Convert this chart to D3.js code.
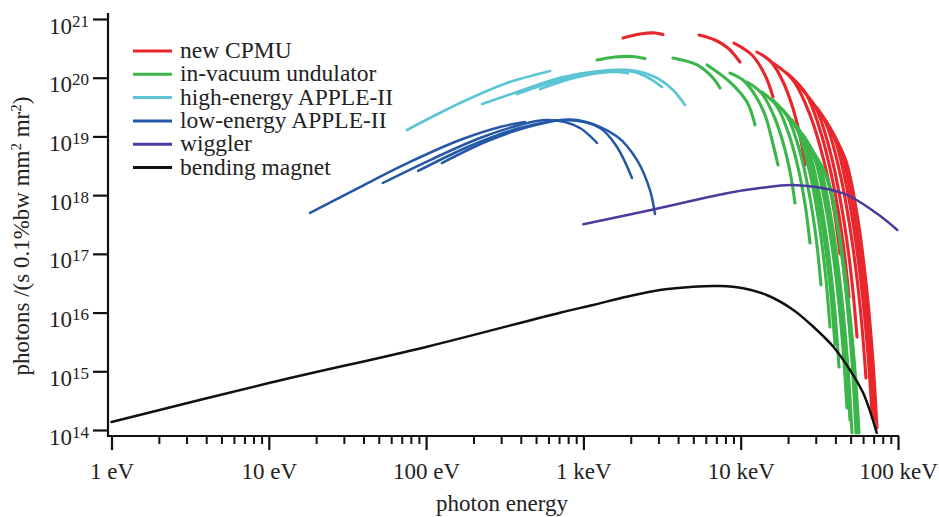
<!DOCTYPE html>
<html>
<head>
<meta charset="utf-8">
<script src="https://cdn.jsdelivr.net/npm/d3@7"></script>
<style>
  html, body { margin: 0; padding: 0; background: #fff; }
  svg { display: block; }
  svg text { font-family: "Liberation Serif", "Times New Roman", Times, Tinos, "DejaVu Serif", serif; fill: #222; }
</style>
</head>
<body>
<svg id="chart" width="939" height="517"></svg>
<script>
// ---------------- data (energy in eV, brightness in photons/(s 0.1%bw mm2 mr2)) ----------------
const xMajorTicks = [1, 10, 100, 1000, 10000, 100000];
const xTickLabels = ["1 eV", "10 eV", "100 eV", "1 keV", "10 keV", "100 keV"];
const yTicks = [1e14, 1e15, 1e16, 1e17, 1e18, 1e19, 1e20, 1e21];
const yTickExponents = ["14", "15", "16", "17", "18", "19", "20", "21"];

const legendLabels = ["new CPMU", "in-vacuum undulator", "high-energy APPLE-II",
                      "low-energy APPLE-II", "wiggler", "bending magnet"];

const cpmuCurves = [
  [[1786,4.74e20],[2291,5.55e20],[2852,5.78e20],[3206,5.45e20]],
  [[5430,5.34e20],[6865,4.39e20],[8300,3.21e20],[9900,1.85e20]],
  [[9070,3.90e20],[11800,2.44e20],[14270,1.11e20],[16050,4.69e19]],
  [[12690,2.74e20],[15670,1.84e20],[18680,8.29e19],[21500,2.99e19],[23890,9.85e18],[25640,3.26e18]],
  [[16050,1.78e20],[21530,9.07e19],[27540,2.35e19],[33500,4.21e18],[38800,6.45e17],[42800,9.94e16]],
  [[19700,1.20e20],[25860,5.45e19],[32440,1.12e19],[38900,1.49e18],[44590,1.66e17],[48820,1.84e16]],
  [[23140,7.51e19],[29980,3.08e19],[37230,5.22e18],[44250,5.37e17],[50340,4.54e16],[54890,3.83e15]],
  [[26790,4.69e19],[34560,1.74e19],[42730,2.39e18],[50630,1.90e17],[57510,1.21e16],[62590,7.68e14]],
  [[30560,3.05e19],[38900,1.04e19],[47610,1.20e18],[55920,7.70e16],[63070,3.86e15],[68340,1.95e14]],
  [[34350,1.91e19],[42800,6.43e18],[51360,7.29e17],[59480,4.54e16],[66370,2.21e15],[70370,1.48e14]],
  [[38050,1.14e19],[46380,4.03e18],[54730,5.02e17],[62420,3.51e16],[68850,1.94e15],[73530,1.08e14]]
];

const ivuCurves = [
  [[1220,2.00e20],[1588,2.25e20],[2037,2.30e20],[2464,2.13e20]],
  [[3710,2.17e20],[5280,1.65e20],[6670,9.9e19],[7390,6.7e19]],
  [[6110,1.65e20],[8550,8.45e19],[10970,3.86e19],[12330,1.57e19]],
  [[8550,1.20e20],[10340,9.14e19],[12330,5.08e19],[14280,2.32e19],[15810,8.69e18],[17260,3.26e18]],
  [[10970,8.45e19],[13540,5.51e19],[16140,2.34e19],[18580,7.88e18],[20640,2.40e18],[22140,7.34e17]],
  [[13660,5.71e19],[16870,3.35e19],[20100,1.15e19],[23140,2.96e18],[25720,6.71e17],[27580,1.53e17]],
  [[16050,4.17e19],[19820,2.17e19],[23620,5.87e18],[27180,1.11e18],[30200,1.80e17],[32390,2.95e16]],
  [[18580,2.82e19],[22830,1.31e19],[27140,2.83e18],[31140,4.00e17],[34500,4.75e16],[36960,5.67e15]],
  [[19700,2.32e19],[24310,1.03e19],[28990,2.03e18],[33370,2.55e17],[37070,2.67e16],[39780,2.80e15]],
  [[21190,1.91e19],[26050,7.97e18],[30960,1.39e18],[35530,1.50e17],[39380,1.33e16],[42170,1.18e15]],
  [[23480,1.29e19],[28990,4.83e18],[34560,6.77e17],[39780,5.52e16],[44190,3.61e15],[47400,2.37e14]],
  [[24890,1.06e19],[30600,3.86e18],[36370,5.16e17],[41740,3.95e16],[46240,2.41e15],[49530,1.48e14]],
  [[26010,8.69e18],[31840,3.09e18],[37670,3.91e17],[43100,2.78e16],[47680,1.57e15],[51010,8.9e13]],
  [[28400,5.87e18],[34910,2.16e18],[41490,2.93e17],[47610,2.28e16],[52770,1.42e15],[56520,8.9e13]],
  [[29670,4.83e18],[35690,1.81e18],[41620,2.54e17],[47060,2.07e16],[51600,1.36e15],[54890,8.9e13]],
  [[31000,3.97e18],[36640,1.51e18],[42110,2.20e17],[47060,1.88e16],[51160,1.29e15],[54080,8.9e13]]
];

const heAppleCurves = [
  [[75.6,1.29e19],[122,2.51e19],[199,4.69e19],[327,8.13e19],[614,1.30e20]],
  [[227,3.57e19],[395,5.94e19],[710,1.0e20],[1275,1.30e20],[1838,1.35e20],[2464,1.07e20],[3162,6.95e19]],
  [[378,5.28e19],[710,9.14e19],[1275,1.25e20],[1978,1.35e20],[2850,1.03e20],[3659,6.42e19],[4425,3.43e19]],
  [[530,6.42e19],[885,1.0e20],[1476,1.25e20],[1921,1.20e20]]
];

const leAppleCurves = [
  [[18.3,4.97e17],[38,1.37e18],[79,3.67e18],[164,8.69e18],[295,1.45e19],[425,1.76e19]],
  [[53,1.61e18],[106,3.96e18],[220,9.4e18],[395,1.57e19],[570,1.9e19],[764,1.76e19],[951,1.39e19],[1100,1.02e19],[1220,7.73e18]],
  [[89,2.58e18],[190,6.87e18],[395,1.39e19],[787,1.9e19],[1275,1.39e19],[1635,6.6e18],[2037,1.96e18]],
  [[126,3.52e18],[255,8.69e18],[530,1.63e19],[911,1.9e19],[1635,1.0e19],[2193,3.96e18],[2650,1.22e18],[2850,4.77e17]]
];

const wigglerCurve = [[1000,3.2e17],[2780,5.7e17],[8150,1.08e18],[13270,1.32e18],[21600,1.49e18],
                      [44900,1.07e18],[73000,4.9e17],[99000,2.55e17]];

const bendingCurve = [[1,1.37e14],[10,6.3e14],[100,2.6e15],[710,9.94e15],[1156,1.35e16],[1885,1.86e16],
                      [3069,2.42e16],[4995,2.76e16],[7386,2.83e16],[10390,2.59e16],[14630,1.99e16],
                      [21600,1.11e16],[28940,5.74e15],[38800,2.62e15],[49530,1.05e15],[60180,4.21e14],
                      [73200,9.0e13]];

const colors = ["#e8262b", "#3cb54b", "#5dc4d5", "#2557a7", "#4a3b9c", "#111111"];

// ---------------- drawing ----------------
const svg = d3.select("#chart");
const x = d3.scaleLog().domain([1, 1e5]).range([111.5, 898]);
const y = d3.scaleLog().domain([1e14, 1e21]).range([430, 19]);
const axisX0 = 108, axisY0 = 436;
const serif = '"Liberation Serif", "Times New Roman", Times, Tinos, "DejaVu Serif", serif';

const line = d3.line().x(d => x(d[0])).y(d => y(d[1])).curve(d3.curveCatmullRom.alpha(0.5));

function drawSeries(curves, color, width) {
  svg.append("g").selectAll("path").data(curves).join("path")
    .attr("d", line).attr("fill", "none").attr("stroke", color)
    .attr("stroke-width", width).attr("stroke-linecap", "round").attr("stroke-linejoin", "round");
}
drawSeries(cpmuCurves, colors[0], 3.1);
drawSeries(ivuCurves, colors[1], 3.1);
drawSeries(heAppleCurves, colors[2], 2.7);
drawSeries(leAppleCurves, colors[3], 2.5);
drawSeries([wigglerCurve], colors[4], 2.5);
drawSeries([bendingCurve], colors[5], 2.5);

// axes lines
svg.append("line").attr("x1", axisX0).attr("x2", axisX0).attr("y1", 13).attr("y2", axisY0 + 1)
  .attr("stroke", "#111").attr("stroke-width", 2.2);
svg.append("line").attr("x1", axisX0 - 1).attr("x2", x(1e5) + 1).attr("y1", axisY0).attr("y2", axisY0)
  .attr("stroke", "#111").attr("stroke-width", 2.2);

// y axis
const yAxis = d3.axisLeft(y).tickValues(yTicks).tickSize(15).tickSizeOuter(0).tickFormat(() => "");
const gy = svg.append("g").attr("transform", `translate(${axisX0},0)`).call(yAxis);
gy.attr("font-family", serif);
gy.select(".domain").remove();
gy.selectAll(".tick line").attr("stroke", "#111").attr("stroke-width", 2.2);
gy.selectAll(".tick text").each(function(d, i) {
  const t = d3.select(this);
  t.text(null).attr("x", -19).attr("y", 14).attr("dy", null)
    .attr("text-anchor", "end").attr("font-size", 23).attr("fill", "#222");
  t.append("tspan").text("10");
  t.append("tspan").attr("font-size", 17).attr("dy", -7).text(yTickExponents[i]);
});

// x axis major
const xAxis = d3.axisBottom(x).tickValues(xMajorTicks).tickSize(14).tickSizeOuter(0)
  .tickFormat((d, i) => xTickLabels[i]);
const gx = svg.append("g").attr("transform", `translate(0,${axisY0})`).call(xAxis);
gx.attr("font-family", serif);
gx.select(".domain").remove();
gx.selectAll(".tick line").attr("stroke", "#111").attr("stroke-width", 2.2);
gx.selectAll(".tick text").attr("y", 43).attr("dy", null).attr("font-size", 23).attr("fill", "#222");

// x axis minor
const minorTicks = x.ticks().filter(v => !xMajorTicks.includes(v));
const xAxisMinor = d3.axisBottom(x).tickValues(minorTicks).tickSize(8).tickSizeOuter(0).tickFormat(() => "");
const gxm = svg.append("g").attr("transform", `translate(0,${axisY0})`).call(xAxisMinor);
gxm.select(".domain").remove();
gxm.selectAll(".tick line").attr("stroke", "#111").attr("stroke-width", 2);

// axis titles
svg.append("text").attr("x", 502).attr("y", 511).attr("text-anchor", "middle")
  .attr("font-family", serif).attr("font-size", 23).text("photon energy");
const yt = svg.append("text").attr("transform", "translate(29,236) rotate(-90)")
  .attr("text-anchor", "middle").attr("font-family", serif).attr("font-size", 23);
yt.append("tspan").text("photons /(s 0.1%bw mm");
yt.append("tspan").attr("font-size", 15).attr("dy", -8).text("2");
yt.append("tspan").attr("dy", 8).text(" mr");
yt.append("tspan").attr("font-size", 15).attr("dy", -8).text("2");
yt.append("tspan").attr("dy", 8).text(")");

// legend
const lg = svg.append("g").attr("font-family", serif);
legendLabels.forEach((lab, i) => {
  const ly = 51 + i * 23.3;
  lg.append("line").attr("x1", 133).attr("x2", 172).attr("y1", ly).attr("y2", ly)
    .attr("stroke", colors[i]).attr("stroke-width", 3);
  lg.append("text").attr("x", 180).attr("y", ly + 7).attr("font-size", 23.5).text(lab);
});
</script>
</body>
</html>
